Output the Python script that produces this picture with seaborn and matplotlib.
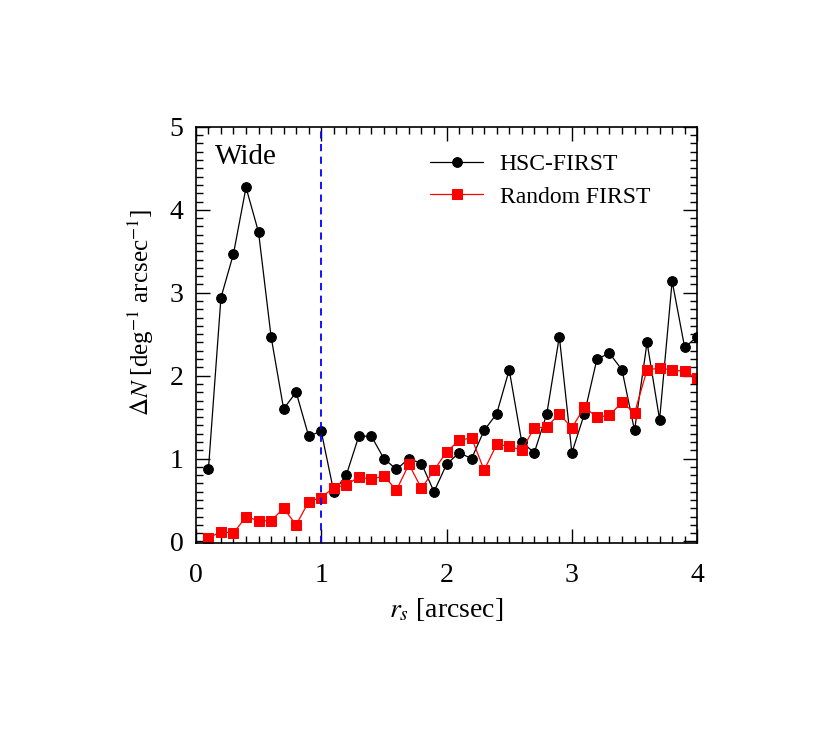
import matplotlib
matplotlib.use("Agg")
import matplotlib.pyplot as plt
import numpy as np
import pandas as pd
import seaborn as sns
from matplotlib.ticker import MultipleLocator

# separation bins [arcsec]
r_sep = [round(0.1 * i, 1) for i in range(1, 41)]

hsc_first = [0.87, 2.94, 3.47, 4.27, 3.73, 2.47, 1.60, 1.80, 1.27, 1.33,
             0.60, 0.80, 1.27, 1.27, 1.00, 0.87, 1.00, 0.94, 0.60, 0.93,
             1.07, 1.00, 1.34, 1.54, 2.07, 1.20, 1.07, 1.54, 2.47, 1.07,
             1.54, 2.20, 2.27, 2.07, 1.34, 2.40, 1.47, 3.14, 2.34, 2.47]

random_first = [0.04, 0.12, 0.10, 0.30, 0.25, 0.25, 0.40, 0.20, 0.48, 0.53,
                0.65, 0.68, 0.78, 0.75, 0.79, 0.62, 0.93, 0.64, 0.86, 1.08,
                1.22, 1.25, 0.86, 1.17, 1.15, 1.10, 1.37, 1.38, 1.54, 1.37,
                1.62, 1.50, 1.52, 1.68, 1.55, 2.07, 2.09, 2.07, 2.05, 1.97]

df = pd.DataFrame({"r": r_sep, "hsc": hsc_first, "rand": random_first})

sns.set_style("ticks")
plt.rcParams["font.family"] = ["Liberation Serif", "DejaVu Serif"]
plt.rcParams["mathtext.fontset"] = "stix"
plt.rcParams["text.color"] = "black"
plt.rcParams["axes.labelcolor"] = "black"
plt.rcParams["xtick.color"] = "black"
plt.rcParams["ytick.color"] = "black"
plt.rcParams["axes.edgecolor"] = "black"

fig = plt.figure(figsize=(8.3, 7.42), dpi=100)
ax = fig.add_axes([0.236, 0.268, 0.604, 0.561])

sns.lineplot(data=df, x="r", y="hsc", ax=ax, color="black", lw=0.9,
             marker="o", markersize=7, markeredgecolor="black",
             label="HSC-FIRST")
sns.lineplot(data=df, x="r", y="rand", ax=ax, color="red", lw=0.9,
             marker="s", markersize=6.5, markeredgecolor="red",
             label="Random FIRST")

ax.axvline(1.0, color="blue", ls=(0, (4, 3)), lw=1.3)

ax.set_xlim(0, 4)
ax.set_ylim(-0.02, 5)
ax.xaxis.set_major_locator(MultipleLocator(1))
ax.xaxis.set_minor_locator(MultipleLocator(0.1))
ax.yaxis.set_major_locator(MultipleLocator(1))
ax.yaxis.set_minor_locator(MultipleLocator(0.1))
ax.tick_params(which="both", direction="in", top=True, right=True,
               labelsize=20, width=1)
ax.tick_params(axis="x", pad=14)
ax.tick_params(axis="y", pad=9)
ax.tick_params(which="major", length=10)
ax.tick_params(which="minor", length=5)
for s in ax.spines.values():
    s.set_linewidth(1.2)

ax.set_xlabel(r"$r_s$ [arcsec]", fontsize=20, labelpad=6)
ax.set_ylabel(r"$\Delta N$ [deg$^{-1}$ arcsec$^{-1}$]", fontsize=18, labelpad=6)
ax.yaxis.set_label_coords(-0.08, 0.555)

ax.text(0.038, 0.928, "Wide", transform=ax.transAxes, fontsize=21,
        va="center", ha="left")

ax.legend(loc="upper left", bbox_to_anchor=(0.467, 0.935), frameon=False,
          fontsize=17, handlelength=2.25, handletextpad=0.7, labelspacing=0.45,
          borderpad=0, borderaxespad=0)

fig.savefig("out.png", dpi=100)
